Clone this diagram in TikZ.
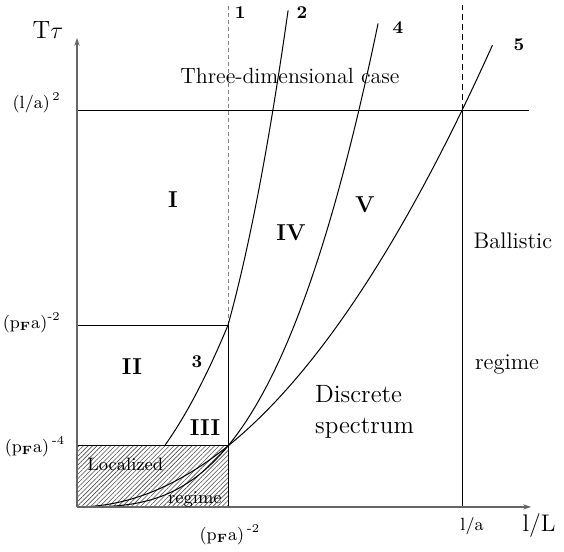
\documentclass[tikz,border=0pt]{standalone}
\usepackage{amsmath, amssymb}
\usepackage{tikz}
\usetikzlibrary{arrows.meta, patterns.meta}

\begin{document}
\begin{tikzpicture}[x=75.5pt, y=30.5pt, line width=0.5pt,
    axis/.style={black!60, line width=0.8pt, -{Stealth[length=4pt, width=2.6pt]}},
    numeral/.style={font=\fontsize{11.5}{14}\selectfont\bfseries},
    curvenum/.style={font=\fontsize{9}{11}\selectfont\bfseries},
    ticklabel/.style={font=\fontsize{8.8}{10}\selectfont},
    region/.style={font=\fontsize{11.3}{13}\selectfont}]
\useasboundingbox (-0.51,-0.738) rectangle (3.225,8.31);

% Shade the localized corner first
\fill[pattern={Lines[angle=45, distance=1.6pt, line width=0.3pt]}, pattern color=black!70] (0,0) rectangle (1,1);
\draw (0,1) -- (1,1);
\draw (0,2.98) -- (1,2.98) -- (1,0);

% Boundaries of the ballistic regime
\draw (0,6.5) -- (2.993,6.5);
\draw (2.55,0) -- (2.55,6.5);
\draw[dash pattern=on 3pt off 2pt] (2.55,6.5) -- (2.55,8.23);
\draw[black!50, dash pattern=on 2pt off 1.5pt] (1,2.98) -- (1,8.23);

% Curves 2 to 5
\draw[domain=1:1.398, samples=30, smooth] plot (\x, {2.98*\x*\x*\x});
\draw[domain=0.579:1, samples=30, smooth] plot (\x, {2.98*\x*\x});
\draw[domain=0:1.994, samples=80, smooth] plot (\x, {\x*\x*\x});
\draw[domain=0:2.752, samples=80, smooth] plot (\x, {\x*\x});

% Axes on top
\draw[axis] (0,0) -- (0,7.69);
\draw[axis] (0,0) -- (3.007,0);

\node[font=\fontsize{12.5}{14}\selectfont] (ttau) at (-0.192,7.82) {T$\tau$};
\node[font=\fontsize{12}{14}\selectfont] (lL) at (3.06,-0.30) {l/L};

\node[ticklabel, anchor=east] (la2) at (-0.06,6.62) {(l/a)$^{\,2}$};
\node[ticklabel, anchor=east] (pfy2) at (-0.06,3.02) {(p$_{\mathbf F}$a)$^{\text{-}2}$};
\node[ticklabel, anchor=east] (pfy4) at (-0.03,0.98) {(p$_{\mathbf F}$a)$^{\,\text{-}4}$};
\node[ticklabel] (pfx2) at (1.013,-0.46) {(p$_{\mathbf F}$a)$^{\,\text{-}2}$};
\node[ticklabel] (lax) at (2.616,-0.31) {l/a};

\node[curvenum] (c1) at (1.08,8.11) {1};
\node[curvenum] (c2) at (1.49,8.11) {2};
\node[curvenum] (c3) at (0.795,2.38) {3};
\node[curvenum] (c4) at (2.126,7.85) {4};
\node[curvenum] (c5) at (2.927,7.57) {5};

\node[numeral] (regI) at (0.636,5.03) {I};
\node[numeral] (regII) at (0.364,2.30) {II};
\node[numeral] (regIII) at (0.848,1.30) {III};
\node[numeral] (regIV) at (1.417,4.49) {IV};
\node[numeral] (regV) at (1.907,4.95) {V};

\node[font=\fontsize{11}{13}\selectfont] (threed) at (1.41,7.07) {Three-dimensional case};
\node[font=\fontsize{12.5}{15.5}\selectfont, align=left, anchor=west] (discr) at (1.53,1.55) {Discrete\\spectrum};
\node[region] (ball) at (2.887,4.36) {Ballistic};
\node[region] (ballreg) at (2.848,2.34) {regime};
\node[font=\fontsize{9}{10}\selectfont] (loc) at (0.32,0.69) {Localized};
\node[font=\fontsize{9}{10}\selectfont] (locreg) at (0.781,0.115) {regime};
\end{tikzpicture}
\end{document}
